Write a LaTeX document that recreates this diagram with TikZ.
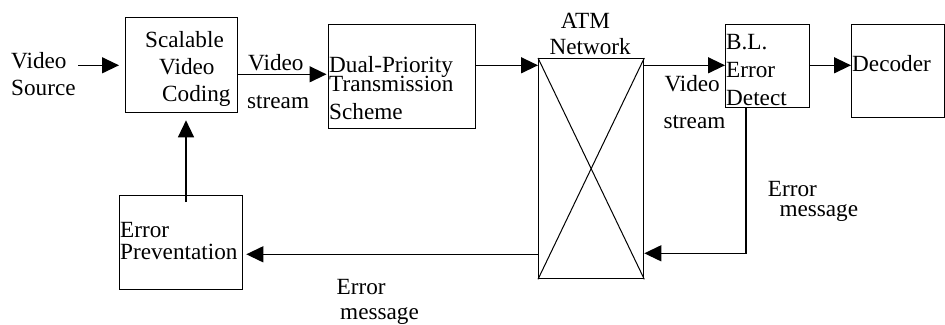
\documentclass[tikz,border=0pt]{standalone}
\usepackage{fontspec}
\setmainfont{Liberation Serif}
\usetikzlibrary{arrows.meta}
\newcommand\figfont{\fontsize{23.2}{26}\selectfont}
\begin{document}
\begin{tikzpicture}[x=1pt,y=-1pt,
  box/.style={draw, line width=1.3pt, inner sep=0pt, anchor=north west},
  txt/.style={inner sep=0pt, anchor=base west, font=\figfont},
  arr/.style={line width=1.3pt, -{Triangle[length=17pt,width=16pt]}},
  plain/.style={line width=1.3pt},
  thinline/.style={line width=1pt}]
\useasboundingbox (0,0) rectangle (945,324);
% boxes
\node[box, minimum width=112pt, minimum height=95pt] (svc) at (125,17) {};
\node[box, minimum width=147pt, minimum height=104pt] (dpts) at (328,24) {};
\node[box, minimum width=105pt, minimum height=220pt] (atm) at (538,58) {};
\node[box, minimum width=84pt, minimum height=83pt] (bl) at (725,24) {};
\node[box, minimum width=93pt, minimum height=93pt] (dec) at (851,24) {};
\node[box, minimum width=123pt, minimum height=94pt] (ep) at (119,195) {};
\draw[thinline] (atm.north west) -- (atm.south east);
\draw[thinline] (atm.south west) -- (atm.north east);
% texts
\node[txt] (vs1) at (11,68.3) {Video};
\node[txt] (vs2) at (11,95.7) {Source};
\node[txt] (s1) at (145,47.7) {Scalable};
\node[txt] (s2) at (159,74) {Video};
\node[txt] (s3) at (162,101) {Coding};
\node[txt] (l1) at (248,70) {Video};
\node[txt] (l2) at (247,108) {stream};
\node[txt] (d1) at (329,72.3) {Dual-Priority};
\node[txt] (d2) at (329,91.7) {Transmission};
\node[txt] (d3) at (329,119) {Scheme};
\node[txt] (a1) at (560.7,28.3) {ATM};
\node[txt] (a2) at (549.3,54.3) {Network};
\node[txt] (r1) at (664.3,91) {Video};
\node[txt] (r2) at (663.3,128.3) {stream};
\node[txt] (b1) at (726,49.3) {B.L.};
\node[txt] (b2) at (726,77.3) {Error};
\node[txt] (b3) at (726,105) {Detect};
\node[txt] (dc) at (852,71.5) {Decoder};
\node[txt] (e1) at (767.7,196) {Error};
\node[txt] (e2) at (779.3,216.7) {message};
\node[txt] (p1) at (120,237.7) {Error};
\node[txt] (p2) at (120,259) {Preventation};
\node[txt] (m1) at (336.5,294.7) {Error};
\node[txt] (m2) at (340,319) {message};
% connectors
\coordinate (vsa) at (78,65.3);
\draw[arr, shorten >=6pt] (vsa) -- (vsa -| svc.west);
\coordinate (sv) at (237,74.3);
\draw[arr, shorten >=1.5pt] (sv -| svc.east) -- (sv -| dpts.west);
\coordinate (dn) at (475,65.3);
\draw[arr] (dn -| dpts.east) -- (dn -| atm.west);
\draw[arr] (dn -| atm.east) -- (dn -| bl.west);
\draw[arr] (dn -| bl.east) -- (dn -| dec.west);
\coordinate (fb) at (746,253.3);
\draw[arr] (fb |- bl.south) -- (fb) -- (fb -| atm.east);
\coordinate (bm) at (538,254.3);
\draw[arr, shorten >=3pt] (bm -| atm.west) -- (bm -| ep.east);
\coordinate (up) at (186,202);
\draw[arr, shorten >=7pt] (up) -- (up |- svc.south);
\end{tikzpicture}
\end{document}
